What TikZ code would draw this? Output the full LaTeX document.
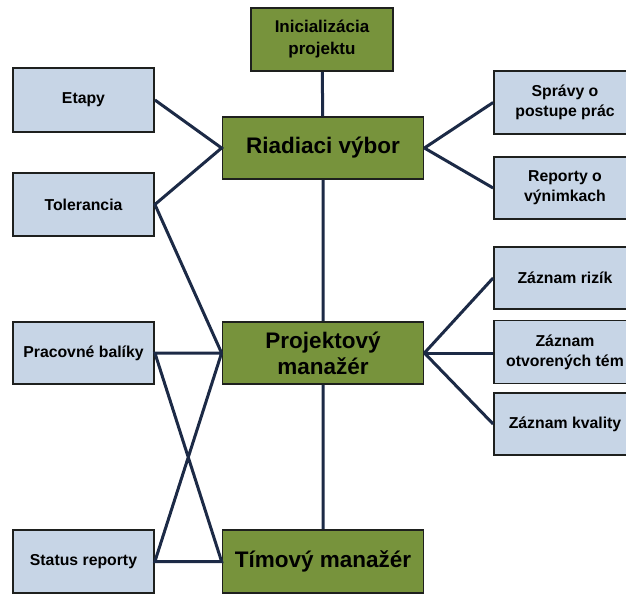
\documentclass[tikz,border=0pt]{standalone}
\usepackage{fontspec}
\setmainfont{Liberation Sans}
\usepackage{tikz}

\definecolor{olivebox}{RGB}{119,147,60}
\definecolor{paleblue}{RGB}{199,213,230}
\definecolor{navyline}{RGB}{28,42,70}
\definecolor{boxedge}{RGB}{30,32,30}

\begin{document}
\begin{tikzpicture}[x=1pt,y=-1pt,
	box/.style={draw=boxedge,line width=1.8pt,inner sep=0pt,align=center,font=\bfseries},
	greenbox/.style={box,fill=olivebox,minimum width=201pt,minimum height=62pt},
	bluebox/.style={box,fill=paleblue,minimum width=141pt,minimum height=62pt,
		font=\bfseries\fontsize{15.8}{20}\selectfont},
	link/.style={navyline,line width=3pt}]
				\useasboundingbox (0,0) rectangle (626,594);
				% vedenie projektu (stred)
				\node[greenbox,minimum width=142pt,minimum height=63pt,
				font=\bfseries\fontsize{17}{22}\selectfont] (init) at (322,39.5) {Inicializácia\\projektu};
				\node[greenbox,font=\bfseries\fontsize{22.5}{26}\selectfont] (rv) at (323,148) {Riadiaci výbor};
				\node[greenbox,font=\bfseries\fontsize{22.5}{26}\selectfont] (pm) at (323,353) {Projektový\\manažér};
				\node[greenbox,minimum height=63pt,font=\bfseries\fontsize{22.5}{26}\selectfont] (tm) at (323,561.5) {Tímový manažér};
				% dokumenty vlavo
				\node[bluebox,minimum height=64pt] (etapy) at (83.5,100) {Etapy};
				\node[bluebox,minimum height=63pt] (tol) at (83.5,204.5) {Tolerancia};
				\node[bluebox] (prac) at (83.5,353) {Pracovné balíky};
				\node[bluebox,minimum height=63pt] (stat) at (83.5,561.5) {Status reporty};
				% dokumenty vpravo
				\node[bluebox,minimum width=142pt,minimum height=63pt] (sprav) at (565,102.5) {Správy o\\postupe prác};
				\node[bluebox,minimum width=142pt] (repo) at (565,188) {Reporty o\\výnimkach};
				\node[bluebox,minimum width=142pt] (riz) at (565,278) {Záznam rizík};
				\node[bluebox,minimum width=142pt,minimum height=63pt] (otv) at (565,352) {Záznam\\otvorených tém};
				\node[bluebox,minimum width=142pt] (kval) at (565,424) {Záznam kvality};
				% spojenia
				\draw[link] (init) -- (rv) -- (pm) -- (tm);
				\draw[link] (etapy.east) -- (rv.west) -- (tol.east) -- (pm.west);
				\draw[link] (rv.east) -- (sprav.west);
				\draw[link] (rv.east) -- (repo.west);
				\draw[link] (pm.east) -- (riz.west);
				\draw[link] (pm.east) -- (pm.east -| otv.west);
				\draw[link] (pm.east) -- (kval.west);
				\draw[link] (pm.west) -- (prac.east) -- (tm.west) -- (stat.east) -- (pm.west);
			\end{tikzpicture}
\end{document}
